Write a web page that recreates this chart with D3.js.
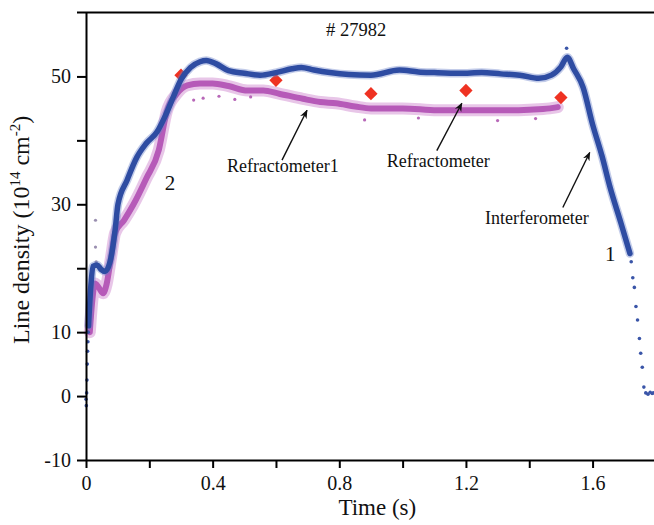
<!DOCTYPE html>
<html>
<head>
<meta charset="utf-8">
<script src="https://cdn.jsdelivr.net/npm/d3@7"></script>
<style>
  body { margin: 0; background: #fff; }
  svg { display: block; }
  text { font-family: 'Liberation Serif', 'Times New Roman', serif; }
</style>
</head>
<body>
<svg width="654" height="525"></svg>
<script>
// interferometer (1)
const blueT = [0.008, 0.015, 0.022, 0.035, 0.048, 0.06, 0.076, 0.092, 0.101, 0.13, 0.16, 0.19, 0.224, 0.25, 0.275, 0.30, 0.33, 0.36, 0.38, 0.41, 0.45, 0.50, 0.55, 0.60, 0.65, 0.68, 0.72, 0.77, 0.83, 0.90, 0.99, 1.05, 1.10, 1.18, 1.25, 1.31, 1.37, 1.43, 1.47, 1.50, 1.52, 1.54, 1.57, 1.60, 1.63, 1.655, 1.69, 1.718]
const blueV = [11, 17, 20.3, 20.5, 19.8, 19.5, 21, 26, 30, 33.8, 37.3, 39.5, 41.3, 43.8, 46.7, 49.5, 51.4, 52.3, 52.5, 52, 50.9, 50.5, 50.2, 50.6, 51.2, 51.4, 51, 50.6, 50.3, 50.2, 51, 50.7, 50.6, 50.5, 50.6, 50.4, 50.2, 49.7, 50.2, 51.5, 53, 51.2, 48.3, 42.5, 37.5, 32.7, 27, 22.3]
// sparse dots at the start and end of the interferometer trace
const blueDotT = [0, 0.001, 0.002, 0.003, 0.004, 0.005, 0.006, 0.007, 1.518, 1.722, 1.727, 1.732, 1.737, 1.742, 1.748, 1.752, 1.757, 1.762, 1.768, 1.775, 1.782, 1.788, 1.792]
const blueDotV = [-0.5, -1.5, 0.5, 2.5, 5, 7, 8.5, 10, 54.4, 21, 18.5, 17, 14, 11.9, 9, 6.7, 4.5, 1.4, 0.5, 0.3, 0.6, 0.4, 0.5]

// refractometer 1 (2)
const magT = [0.012, 0.02, 0.028, 0.04, 0.054, 0.065, 0.08, 0.092, 0.12, 0.148, 0.19, 0.23, 0.255, 0.287, 0.32, 0.36, 0.40, 0.45, 0.51, 0.56, 0.61, 0.685, 0.74, 0.79, 0.85, 0.9, 1.0, 1.11, 1.21, 1.31, 1.4, 1.465, 1.49]
const magV = [10, 15, 17.6, 17, 16.1, 17.5, 22, 25.5, 27.5, 29.8, 34, 38.5, 44.5, 47.3, 48.6, 48.9, 48.9, 48.5, 47.8, 47.8, 47.3, 46.5, 46, 45.8, 45.3, 45, 45, 44.7, 44.7, 44.7, 44.8, 45, 45.2]
const magDotT = [0.03, 0.03, 0.032, 0.34, 0.37, 0.42, 0.47, 0.52, 0.88, 1.05, 1.3, 1.42]
const magDotV = [27.5, 23.3, 21, 46.3, 46.6, 46.9, 46.4, 46.8, 43.2, 43.5, 43.1, 43.4]

// refractometer (red diamonds)
const refT = [0.3, 0.6, 0.9, 1.2, 1.5]
const refV = [50.2, 49.4, 47.3, 47.8, 46.7]

const xTicks = [0, 0.2, 0.4, 0.6, 0.8, 1.0, 1.2, 1.4, 1.6]
const xLabels = ['0', '', '0.4', '', '0.8', '', '1.2', '', '1.6']
const yTicks = [-10, 0, 10, 20, 30, 40, 50]
const yLabels = ['-10', '0', '10', '', '30', '', '50']

const serif = 'Liberation Serif'
const svg = d3.select('svg')
const x = d3.scaleLinear().domain([0, 1.794]).range([86, 654])
const y = d3.scaleLinear().domain([-10, 60]).range([460, 12.5])

const line = d3.line().x(d => x(d[0])).y(d => y(d[1])).curve(d3.curveMonotoneX)
const blue = blueT.map((t, i) => [t, blueV[i]])
const mag = magT.map((t, i) => [t, magV[i]])

// magenta band
svg.append('path').datum(mag).attr('d', line)
  .attr('fill', 'none').attr('stroke', '#d597d6').attr('stroke-width', 12)
  .attr('stroke-linejoin', 'round').attr('stroke-linecap', 'round').attr('opacity', 0.55)
svg.append('path').datum(mag).attr('d', line)
  .attr('fill', 'none').attr('stroke', '#b65ab8').attr('stroke-width', 6)
  .attr('stroke-linejoin', 'round').attr('stroke-linecap', 'round')
svg.append('g').selectAll('circle').data(magDotT).enter().append('circle')
  .attr('cx', d => x(d)).attr('cy', (d, i) => y(magDotV[i])).attr('r', 1.6)
  .attr('fill', (d, i) => i < 3 ? '#9a8fb0' : '#b868b8')

// red diamonds
svg.append('g').selectAll('path').data(refT).enter().append('path')
  .attr('d', d3.symbol(d3.symbolSquare, 88))
  .attr('transform', (d, i) => `translate(${x(d)},${y(refV[i])}) rotate(45)`)
  .attr('fill', '#ef3222')

// blue trace
svg.append('path').datum(blue).attr('d', line)
  .attr('fill', 'none').attr('stroke', '#6a80c8').attr('stroke-width', 8.5)
  .attr('stroke-linejoin', 'round').attr('stroke-linecap', 'round').attr('opacity', 0.4)
svg.append('path').datum(blue).attr('d', line)
  .attr('fill', 'none').attr('stroke', '#2e4ca2').attr('stroke-width', 5.5)
  .attr('stroke-linejoin', 'round').attr('stroke-linecap', 'round')
svg.append('g').selectAll('circle').data(blueDotT).enter().append('circle')
  .attr('cx', d => x(d)).attr('cy', (d, i) => y(blueDotV[i])).attr('r', 1.8)
  .attr('fill', '#3a55a8')

// axes
const yAxis = d3.axisLeft(y).tickValues(yTicks).tickSize(9).tickSizeOuter(0).tickPadding(6)
  .tickFormat((d, i) => yLabels[i])
const xAxis = d3.axisBottom(x).tickValues(xTicks).tickSize(8).tickSizeOuter(0).tickPadding(8)
  .tickFormat((d, i) => xLabels[i])

const gy = svg.append('g').attr('transform', `translate(${x(0)},0)`).call(yAxis)
const gx = svg.append('g').attr('transform', `translate(0,${y(-10)})`).call(xAxis)
for (const g of [gx, gy]) {
  g.attr('font-family', serif)
  g.select('.domain').attr('stroke-width', 2)
  g.selectAll('.tick line').attr('stroke-width', 2)
  g.selectAll('.tick text').attr('font-size', 20).attr('font-family', serif).attr('fill', '#111')
}
// top frame line
svg.append('line').attr('x1', x(0) - 9).attr('x2', 654).attr('y1', y(60)).attr('y2', y(60))
  .attr('stroke', '#000').attr('stroke-width', 2)

// axis titles
svg.append('text').attr('x', x(0.92)).attr('y', 515).attr('text-anchor', 'middle')
  .attr('font-family', serif).attr('font-size', 23).attr('fill', '#111').text('Time (s)')
const yt = svg.append('text').attr('transform', `translate(29,${y(26)}) rotate(-90)`)
  .attr('text-anchor', 'middle').attr('font-family', serif).attr('font-size', 24).attr('fill', '#111')
yt.append('tspan').text('Line density (10')
yt.append('tspan').attr('font-size', 15).attr('dy', -9).text('14')
yt.append('tspan').attr('dy', 9).text(' cm')
yt.append('tspan').attr('font-size', 15).attr('dy', -9).text('-2')
yt.append('tspan').attr('dy', 9).text(')')

// annotations
svg.append('defs').append('marker').attr('id', 'arr')
  .attr('viewBox', '0 0 10 10').attr('refX', 9).attr('refY', 5)
  .attr('markerWidth', 9).attr('markerHeight', 9).attr('orient', 'auto')
  .attr('markerUnits', 'userSpaceOnUse')
  .append('path').attr('d', 'M0,1 L10,5 L0,9 L3,5 Z').attr('fill', '#111')

const arrows = [
  { from: [0.619, 36.9], to: [0.698, 44.7] },
  { from: [1.108, 38.4], to: [1.187, 45.8] },
  { from: [1.506, 29.5], to: [1.591, 38.1] }
]
svg.append('g').selectAll('line').data(arrows).enter().append('line')
  .attr('x1', d => x(d.from[0])).attr('y1', d => y(d.from[1]))
  .attr('x2', d => x(d.to[0])).attr('y2', d => y(d.to[1]))
  .attr('stroke', '#111').attr('stroke-width', 1.4).attr('marker-end', 'url(#arr)')

const labels = [
  { t: 0.853, v: 56.4, text: '# 27982', size: 18.5, anchor: 'middle' },
  { t: 0.445, v: 35, text: 'Refractometer1', size: 18, anchor: 'start' },
  { t: 0.95, v: 35.8, text: 'Refractometer', size: 18, anchor: 'start' },
  { t: 1.26, v: 26.9, text: 'Interferometer', size: 18, anchor: 'start' },
  { t: 1.639, v: 21.1, text: '1', size: 21, anchor: 'start' },
  { t: 0.249, v: 32.3, text: '2', size: 21, anchor: 'start' }
]
svg.append('g').selectAll('text').data(labels).enter().append('text')
  .attr('x', d => x(d.t)).attr('y', d => y(d.v))
  .attr('font-family', serif)
  .attr('font-size', d => d.size).attr('text-anchor', d => d.anchor)
  .attr('fill', '#111').text(d => d.text)
</script>
</body>
</html>
